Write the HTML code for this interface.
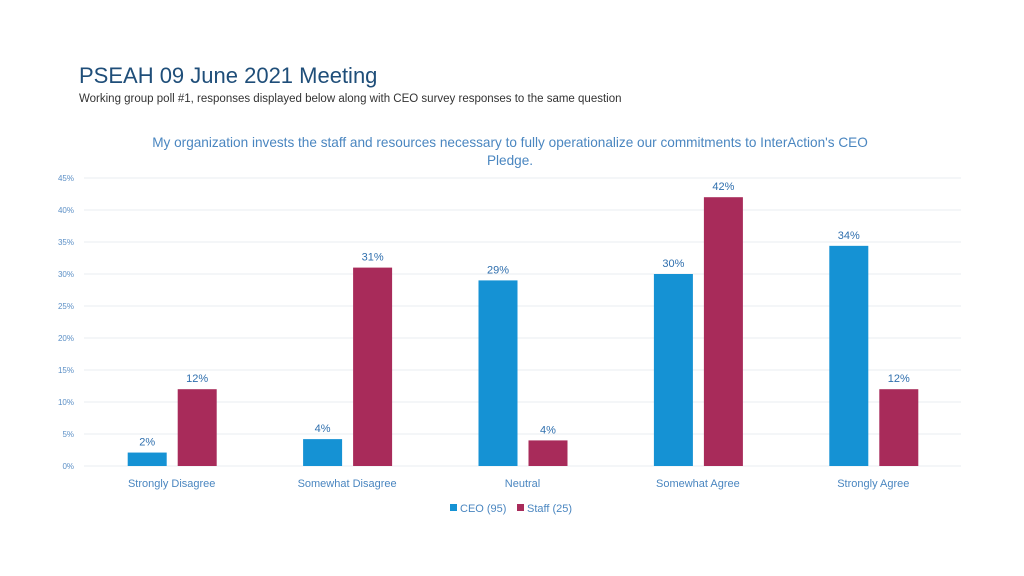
<!DOCTYPE html>
<html><head><meta charset="utf-8"><style>
body{margin:0;width:1024px;height:576px;background:#fff;overflow:hidden;font-family:"Liberation Sans",sans-serif}
#title{position:absolute;left:79px;top:63px;font-size:22px;color:#1f4e79;margin:0;font-weight:normal}
#sub{position:absolute;left:79px;top:93px;font-size:11.5px;color:#333}
svg{position:absolute;left:0;top:0}
</style></head><body>
<h1 id="title">PSEAH 09 June 2021 Meeting</h1>
<div id="sub">Working group poll #1, responses displayed below along with CEO survey responses to the same question</div>
<svg id="chart" width="1024" height="576"></svg>
<script>
const categories=["Strongly Disagree","Somewhat Disagree","Neutral","Somewhat Agree","Strongly Agree"];
const ceoValues=[2.1,4.2,29,30,34.4];
const staffValues=[12,31,4,42,12];
const ceoLabels=["2%","4%","29%","30%","34%"];
const staffLabels=["12%","31%","4%","42%","12%"];
const yTicks=[0,5,10,15,20,25,30,35,40,45];
const NS="http://www.w3.org/2000/svg";
const svg=document.getElementById('chart');
const x0=84,x1=961,y0=466,yMax=45,ph=288;
const y=v=>y0-v/yMax*ph;
const bw=(x1-x0)/categories.length;
function mk(t,a,txt){const e=document.createElementNS(NS,t);for(const k in a)e.setAttribute(k,a[k]);if(txt!=null)e.textContent=txt;svg.appendChild(e);return e;}
let e=mk('text',{x:510,y:147,'text-anchor':'middle','font-size':13.6,fill:'#4a86c0'},"My organization invests the staff and resources necessary to fully operationalize our commitments to InterAction's CEO");


e=mk('text',{x:510,y:165,'text-anchor':'middle','font-size':13.6,fill:'#4a86c0'},"Pledge.");


yTicks.forEach(t=>{
  let g=mk('line',{x1:x0,x2:x1,y1:y(t),y2:y(t),stroke:'#e8ecf2','stroke-width':1});
  
  
  let l=mk('text',{x:74,y:y(t)+3,'text-anchor':'end','font-size':8,fill:'#5b8fc6'},t+'%');
  
  
});
categories.forEach((c,i)=>{
  const cx=x0+bw*(i+0.5);
  const bars=[[ceoValues[i],ceoLabels[i],cx-44,'#1592d4','bar-ceo'],[staffValues[i],staffLabels[i],cx+6,'#a82b5a','bar-staff']];
  bars.forEach(b=>{
    let r=mk('rect',{x:b[2],y:y(b[0]),width:39,height:y0-y(b[0]),fill:b[3]});
    
    
    let t=mk('text',{x:b[2]+19.5,y:y(b[0])-7,'text-anchor':'middle','font-size':11,fill:'#2f6fae'},b[1]);
    
    
  });
  let l=mk('text',{x:cx,y:487,'text-anchor':'middle','font-size':11,fill:'#4a86c0'},c);
  
  
});
[[450,'#1592d4','CEO (95)','legend-ceo'],[517,'#a82b5a','Staff (25)','legend-staff']].forEach(L=>{
  let r=mk('rect',{x:L[0],y:504,width:7,height:7,fill:L[1]});
  
  
  let t=mk('text',{x:L[0]+10,y:512,'font-size':11,fill:'#4a86c0'},L[2]);
  
  
});
</script>
</body></html>
